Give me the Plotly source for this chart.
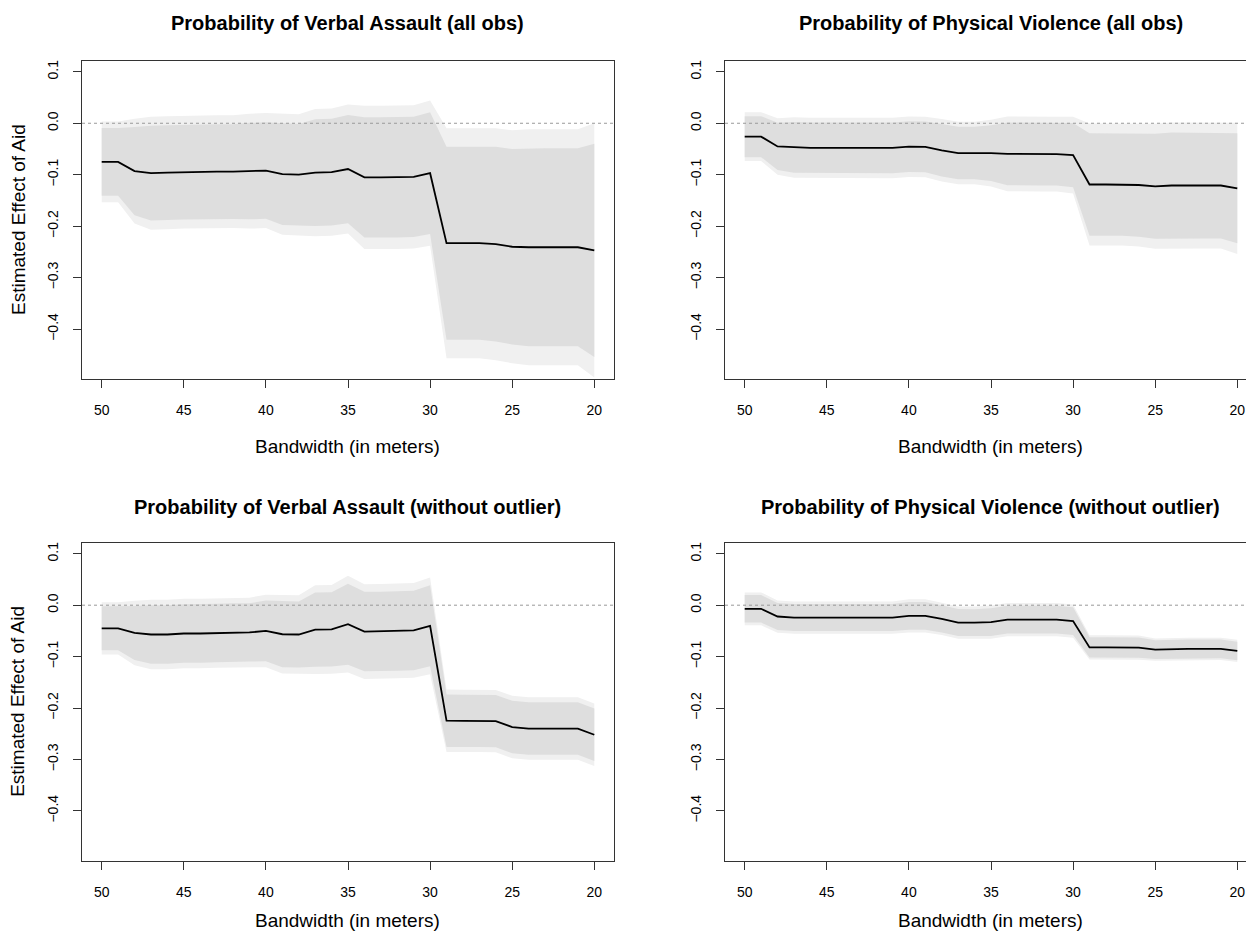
import plotly.graph_objects as go

# ---------------- data ----------------
bandwidth = [50, 49, 48, 47, 46, 45, 44, 43, 42, 41, 40, 39, 38, 37, 36, 35,
             34, 33, 32, 31, 30, 29, 28, 27, 26, 25, 24, 23, 22, 21, 20]

# Verbal assault, all obs
est_verbal_all = [-0.075, -0.075, -0.093, -0.097, -0.096, -0.095, -0.095, -0.094, -0.094, -0.093, -0.092,
                  -0.099, -0.100, -0.096, -0.095, -0.089, -0.105, -0.105, -0.105, -0.104, -0.097,
                  -0.233, -0.233, -0.233, -0.235, -0.240, -0.241, -0.241, -0.241, -0.241, -0.247]
se_verbal_all = [0.040, 0.040, 0.052, 0.056, 0.056, 0.056, 0.056, 0.056, 0.056, 0.057, 0.057,
                 0.060, 0.060, 0.063, 0.063, 0.064, 0.071, 0.071, 0.071, 0.071, 0.072,
                 0.114, 0.114, 0.114, 0.115, 0.1155, 0.117, 0.117, 0.117, 0.117, 0.126]

# Physical violence, all obs
est_phys_all = [-0.026, -0.026, -0.045, -0.047, -0.048, -0.048, -0.048, -0.048, -0.048, -0.048, -0.0455,
                -0.046, -0.0525, -0.058, -0.058, -0.058, -0.0595, -0.060, -0.060, -0.060, -0.062,
                -0.119, -0.119, -0.119, -0.120, -0.1225, -0.121, -0.121, -0.121, -0.121, -0.1265]
se_phys_all = [0.0242, 0.0242, 0.028, 0.030, 0.030, 0.030, 0.030, 0.030, 0.030, 0.030, 0.030,
               0.030, 0.031, 0.031, 0.031, 0.033, 0.037, 0.037, 0.037, 0.037, 0.038,
               0.0605, 0.0605, 0.0605, 0.061, 0.062, 0.0625, 0.0625, 0.0625, 0.0625, 0.065]

# Verbal assault, without outlier
est_verbal_wo = [-0.045, -0.045, -0.054, -0.057, -0.057, -0.055, -0.055, -0.054, -0.053, -0.053, -0.050,
                 -0.0565, -0.057, -0.0475, -0.047, -0.037, -0.0513, -0.051, -0.050, -0.049, -0.040,
                 -0.2247, -0.225, -0.225, -0.2255, -0.237, -0.240, -0.240, -0.240, -0.240, -0.252]
se_verbal_wo = [0.026, 0.026, 0.032, 0.0345, 0.0345, 0.0345, 0.0345, 0.0345, 0.0345, 0.0345, 0.036,
                0.039, 0.039, 0.044, 0.044, 0.048, 0.047, 0.047, 0.047, 0.047, 0.048,
                0.031, 0.031, 0.031, 0.031, 0.031, 0.031, 0.031, 0.031, 0.031, 0.031]

# Physical violence, without outlier
est_phys_wo = [-0.007, -0.007, -0.022, -0.024, -0.024, -0.024, -0.024, -0.024, -0.024, -0.024, -0.0207,
               -0.0207, -0.0266, -0.0337, -0.034, -0.033, -0.028, -0.028, -0.028, -0.028, -0.031,
               -0.082, -0.082, -0.082, -0.0825, -0.0864, -0.085, -0.085, -0.085, -0.085, -0.089]
se_phys_wo = [0.0163, 0.0163, 0.016, 0.016, 0.016, 0.016, 0.016, 0.016, 0.016, 0.016, 0.0165,
              0.0165, 0.016, 0.016, 0.016, 0.0165, 0.0165, 0.0165, 0.0165, 0.0165, 0.0165,
              0.012, 0.012, 0.012, 0.012, 0.011, 0.011, 0.011, 0.011, 0.011, 0.011]

titles = ["Probability of Verbal Assault (all obs)",
          "Probability of Physical Violence (all obs)",
          "Probability of Verbal Assault (without outlier)",
          "Probability of Physical Violence (without outlier)"]
panels = [(est_verbal_all, se_verbal_all), (est_phys_all, se_phys_all),
          (est_verbal_wo, se_verbal_wo), (est_phys_wo, se_phys_wo)]

x_ticks = [50, 45, 40, 35, 30, 25, 20]
y_ticks = [-0.4, -0.3, -0.2, -0.1, 0.0, 0.1]
z90, z95 = 1.645, 1.96

# ---------------- layout geometry ----------------
W, H = 1246, 932
FONT = "Liberation Sans, Arial, Helvetica, sans-serif"
OUTER = "#f0f0f0"
INNER = "#dedede"
AXC = "#333333"

x_dom = [[82 / W, 614 / W], [725 / W, 1.0], [82 / W, 614 / W], [725 / W, 1.0]]
y_dom = [[1 - 379 / H, 1 - 61 / H], [1 - 379 / H, 1 - 61 / H],
         [1 - 860.7 / H, 1 - 543 / H], [1 - 860.7 / H, 1 - 543 / H]]
x_rng = [[51.2, 18.8], [51.2, 19.47], [51.2, 18.8], [51.2, 19.47]]
y_rng = [-0.497, 0.121]

fig = go.Figure()
layout = dict(width=W, height=H, margin=dict(l=0, r=0, t=0, b=0), autosize=False,
              paper_bgcolor="white", plot_bgcolor="white", showlegend=False,
              font=dict(family=FONT, color="black"))
shapes, annotations = [], []

for i, (est, se) in enumerate(panels):
    k = "" if i == 0 else str(i + 1)
    xa, ya = "x" + k, "y" + k
    lo95 = [e - z95 * s for e, s in zip(est, se)]
    hi95 = [e + z95 * s for e, s in zip(est, se)]
    lo90 = [e - z90 * s for e, s in zip(est, se)]
    hi90 = [e + z90 * s for e, s in zip(est, se)]
    for lo, hi, col in [(lo95, hi95, OUTER), (lo90, hi90, INNER)]:
        fig.add_trace(go.Scatter(x=bandwidth + bandwidth[::-1], y=hi + lo[::-1],
                                 fill="toself", fillcolor=col, line=dict(width=0),
                                 mode="lines", hoverinfo="skip", xaxis=xa, yaxis=ya))
    fig.add_trace(go.Scatter(x=bandwidth, y=est, mode="lines",
                             line=dict(color="black", width=1.8), xaxis=xa, yaxis=ya))

    left = i % 2 == 0
    layout["xaxis" + k] = dict(domain=x_dom[i], range=x_rng[i], anchor=ya,
                               tickvals=x_ticks, ticks="outside", ticklen=8, tickcolor=AXC,
                               showline=True, linecolor=AXC, linewidth=1, mirror=True,
                               showgrid=False, zeroline=False, ticklabelstandoff=10,
                               tickfont=dict(size=14, family=FONT, color="black"))
    layout["yaxis" + k] = dict(domain=y_dom[i], range=y_rng, anchor=xa,
                               tickvals=y_ticks, tickformat=".1f", tickangle=-90,
                               ticks="outside", ticklen=8, tickcolor=AXC,
                               showline=True, linecolor=AXC, linewidth=1, mirror=left,
                               showgrid=False, zeroline=False, ticklabelstandoff=9,
                               tickfont=dict(size=14, family=FONT, color="black"))
    # dotted zero reference line
    shapes.append(dict(type="line", xref=xa + " domain", yref=ya, x0=0, x1=1, y0=0, y1=0,
                       line=dict(color="#999999", width=1, dash="dot"), layer="above"))

    xc = (x_dom[i][0] + (x_dom[i][0] + (532 / W))) / 2
    ytop = 23 if i < 2 else 507
    annotations.append(dict(text="<b>" + titles[i] + "</b>", xref="paper", yref="paper",
                            x=xc, y=1 - ytop / H, xanchor="center", yanchor="middle",
                            showarrow=False, font=dict(size=20, family=FONT, color="black")))
    yxt = 446 if i < 2 else 920
    annotations.append(dict(text="Bandwidth (in meters)", xref="paper", yref="paper",
                            x=xc, y=1 - yxt / H, xanchor="center", yanchor="middle",
                            showarrow=False, font=dict(size=19, family=FONT, color="black")))
    if left:
        ymid = (y_dom[i][0] + y_dom[i][1]) / 2
        annotations.append(dict(text="Estimated Effect of Aid", xref="paper", yref="paper",
                                x=18 / W, y=ymid, xanchor="center", yanchor="middle",
                                textangle=-90, showarrow=False,
                                font=dict(size=19, family=FONT, color="black")))

layout["shapes"] = shapes
layout["annotations"] = annotations
fig.update_layout(**layout)
fig.write_html("out.html")
